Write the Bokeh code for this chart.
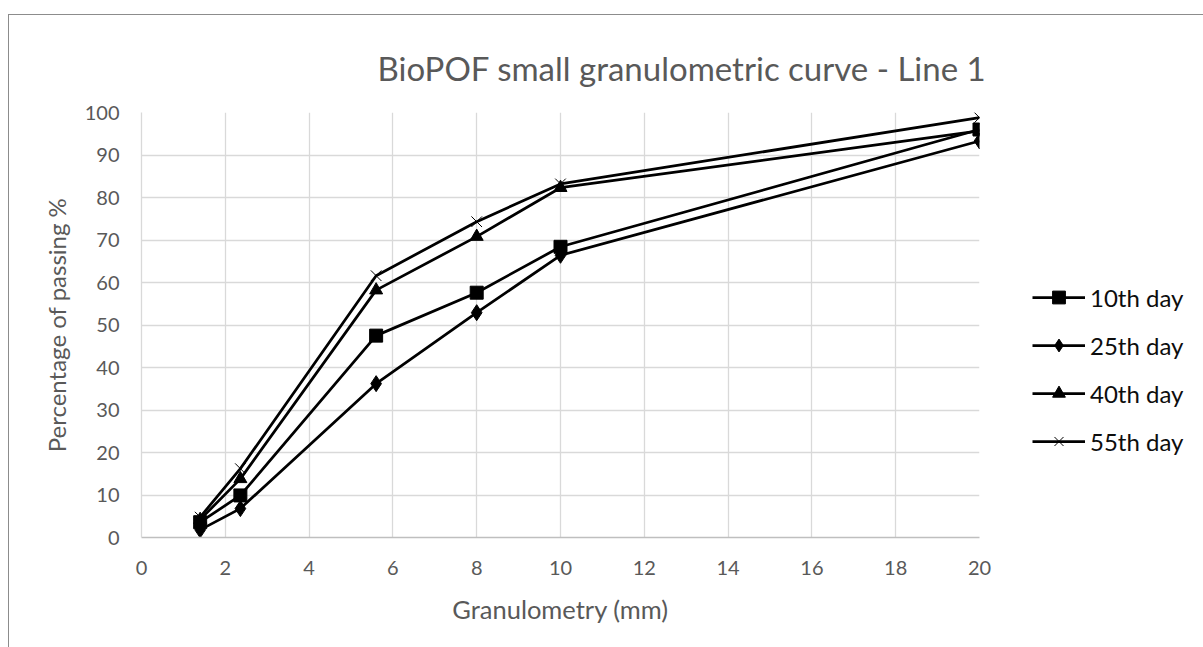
from bokeh.plotting import figure
from bokeh.models import Legend, LegendItem, FixedTicker, Range1d
from bokeh.embed import file_html
from bokeh.resources import INLINE

# ---- data ----
granulometry = [1.4, 2.36, 5.6, 8, 10, 20]
day10 = [3.6, 9.9, 47.5, 57.6, 68.4, 96.0]
day25 = [1.8, 6.8, 36.2, 52.9, 66.4, 93.3]
day40 = [4.2, 13.8, 58.2, 70.8, 82.3, 95.7]
day55 = [4.8, 16.2, 61.6, 74.3, 83.2, 98.8]
series_names = ["10th day", "25th day", "40th day", "55th day"]
x_ticks = [0, 2, 4, 6, 8, 10, 12, 14, 16, 18, 20]
y_ticks = [0, 10, 20, 30, 40, 50, 60, 70, 80, 90, 100]

FONT = "Lato"
GRAY = "#595959"

p = figure(frame_width=838, frame_height=425, output_backend="svg", toolbar_location=None,
           x_range=Range1d(0, 20), y_range=Range1d(0, 100),
           min_border_left=132, min_border_right=10, min_border_top=97, min_border_bottom=111)
p.margin = (14, 0, 0, 8)
p.styles = {"border-left": "1px solid #8c8c8c", "border-top": "1px solid #8c8c8c"}
p.outline_line_color = None
p.background_fill_color = "white"
p.border_fill_color = "white"

p.title.text = "BioPOF small granulometric curve - Line 1"
p.title.align = "left"
p.title.offset = 236
p.title.standoff = 50
p.title.text_font = FONT
p.title.text_font_size = "33px"
p.title.text_font_style = "normal"
p.title.text_color = GRAY
p.title.text_line_height = 1.6

p.xaxis.ticker = FixedTicker(ticks=x_ticks)
p.yaxis.ticker = FixedTicker(ticks=y_ticks)
p.xgrid.ticker = FixedTicker(ticks=x_ticks)
p.ygrid.ticker = FixedTicker(ticks=y_ticks)
p.grid.grid_line_color = "#d9d9d9"
p.grid.grid_line_width = 1.3

for ax in (p.xaxis[0], p.yaxis[0]):
    ax.major_tick_line_color = None
    ax.minor_tick_line_color = None
    ax.major_label_text_font = FONT
    ax.major_label_text_font_size = "20px"
    ax.major_label_text_color = GRAY
    ax.axis_label_text_font = FONT
    ax.axis_label_text_font_style = "normal"
    ax.axis_label_text_color = GRAY

p.xaxis.axis_label = "Granulometry (mm)"
p.yaxis.axis_label = "Percentage of passing %"
p.xaxis.axis_label_text_font_size = "25.5px"
p.yaxis.axis_label_text_font_size = "24px"
p.xaxis.axis_line_color = "#bfbfbf"
p.xaxis.axis_line_width = 1.3
p.yaxis.axis_line_color = "#d9d9d9"
p.yaxis.axis_line_width = 1.3
p.xaxis.major_label_standoff = 17
p.yaxis.major_label_standoff = 16
p.xaxis.axis_label_standoff = 16
p.yaxis.axis_label_standoff = 11

series = [day10, day25, day40, day55]
markers = ["square", "diamond", "triangle", "x"]
sizes = [13, 16, 13, 15]
items = []
for name, vals, mk, sz in zip(series_names, series, markers, sizes):
    ln = p.line(granulometry, vals, line_color="black", line_width=2.75)
    if mk == "x":
        sc = p.scatter(granulometry, vals, marker=mk, size=sz, line_color="black", line_width=1)
    else:
        sc = p.scatter(granulometry, vals, marker=mk, size=sz, fill_color="black", line_color="black")
    items.append(LegendItem(label=name, renderers=[ln, sc]))

legend = Legend(items=items, location=(53, 80), orientation="vertical")
legend.glyph_width = 53
legend.glyph_height = 32
legend.label_height = 20
legend.spacing = 16
legend.padding = 0
legend.margin = 0
legend.label_standoff = 5
legend.border_line_color = None
legend.background_fill_alpha = 0
legend.label_text_font = FONT
legend.label_text_font_size = "24px"
legend.label_text_color = "#0d0d0d"
p.add_layout(legend, "right")

open("out.html", "w").write(file_html(p, INLINE))
